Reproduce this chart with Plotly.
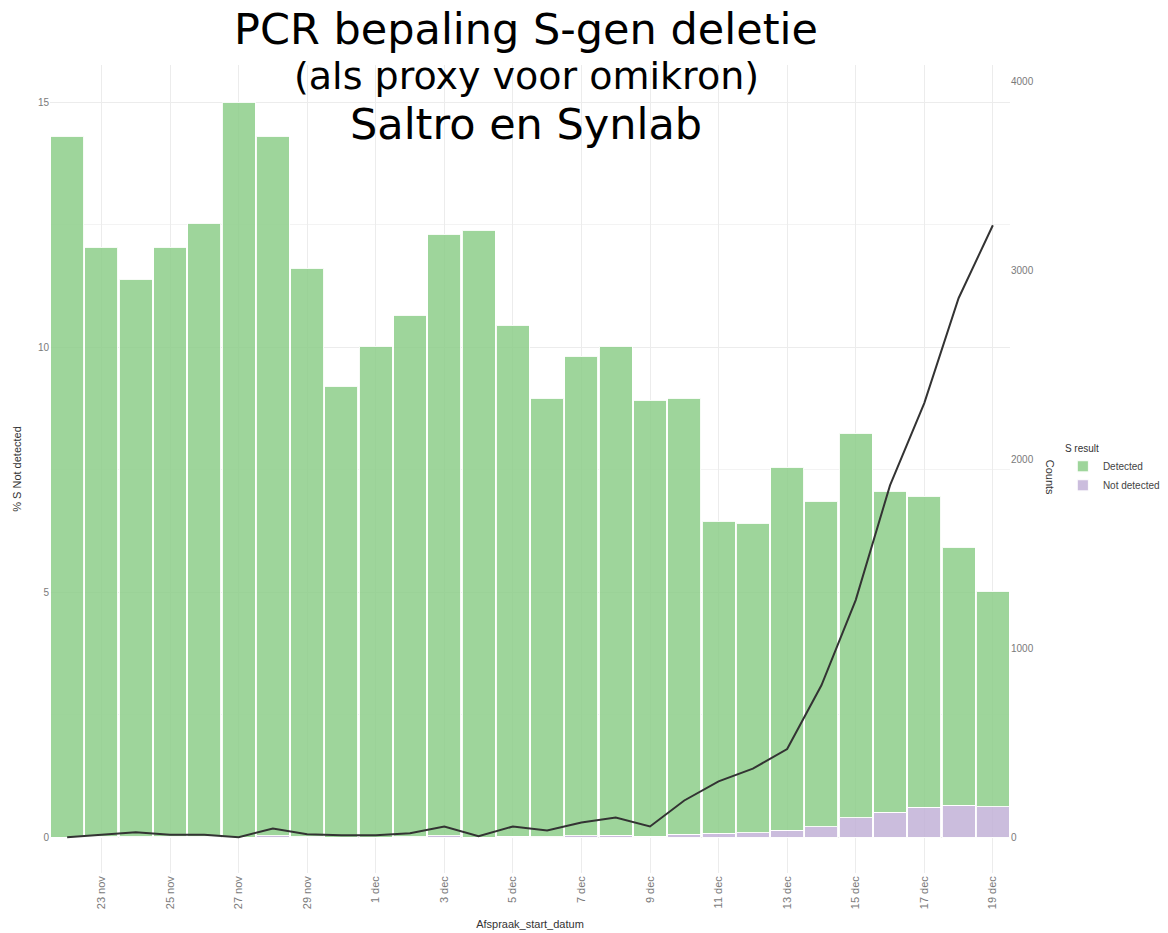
import plotly.graph_objects as go

# ---- data ----
dates = ["2021-11-22", "2021-11-23", "2021-11-24", "2021-11-25", "2021-11-26", "2021-11-27",
         "2021-11-28", "2021-11-29", "2021-11-30", "2021-12-01", "2021-12-02", "2021-12-03",
         "2021-12-04", "2021-12-05", "2021-12-06", "2021-12-07", "2021-12-08", "2021-12-09",
         "2021-12-10", "2021-12-11", "2021-12-12", "2021-12-13", "2021-12-14", "2021-12-15",
         "2021-12-16", "2021-12-17", "2021-12-18", "2021-12-19"]

total_counts = [3709, 3122, 2952, 3122, 3249, 3889, 3709, 3011, 2386, 2598, 2762, 3190,
                3212, 2709, 2323, 2545, 2598, 2312, 2323, 1672, 1661, 1958, 1778, 2138,
                1831, 1804, 1534, 1302]

not_detected = [0, 2, 3, 2, 2, 0, 7, 2, 1, 1, 2, 7,
                1, 6, 3, 8, 10, 5, 17, 20, 25, 37, 55, 103,
                132, 159, 168, 162]

detected = [t - n for t, n in zip(total_counts, not_detected)]

pct_not_detected = [0.0, 0.05, 0.1, 0.05, 0.05, 0.0, 0.18, 0.06, 0.04, 0.04, 0.08, 0.22,
                    0.02, 0.22, 0.14, 0.3, 0.4, 0.22, 0.75, 1.14, 1.4, 1.8, 3.1, 4.84,
                    7.18, 8.86, 11.0, 12.49]

tick_vals = ["2021-11-23", "2021-11-25", "2021-11-27", "2021-11-29", "2021-12-01", "2021-12-03",
             "2021-12-05", "2021-12-07", "2021-12-09", "2021-12-11", "2021-12-13", "2021-12-15",
             "2021-12-17", "2021-12-19"]
tick_text = ["23 nov", "25 nov", "27 nov", "29 nov", "1 dec", "3 dec", "5 dec", "7 dec",
             "9 dec", "11 dec", "13 dec", "15 dec", "17 dec", "19 dec"]

# ---- figure ----
GREEN = "rgba(141,206,137,0.85)"
PURPLE = "rgba(194,177,215,0.85)"

fig = go.Figure()
fig.add_trace(go.Bar(x=dates, y=not_detected, name="Not detected", yaxis="y",
                     marker=dict(color=PURPLE, line=dict(color="rgba(255,255,255,0.9)", width=1))))
fig.add_trace(go.Bar(x=dates, y=detected, name="Detected", yaxis="y",
                     marker=dict(color=GREEN, line=dict(color="rgba(255,255,255,0.9)", width=1))))
fig.add_trace(go.Scatter(x=dates, y=pct_not_detected, mode="lines", yaxis="y2",
                         line=dict(color="#333333", width=2), showlegend=False))

k = 259.3  # counts per percent unit (ratio of the two axes)
lo, hi = -0.73, 15.76

tickfont = dict(family="Liberation Sans, Arial, sans-serif", size=10, color="#7a7a7a")
xtickfont = dict(family="Liberation Sans, Arial, sans-serif", size=11, color="#7a7a7a")

fig.update_layout(
    width=1168, height=933,
    margin=dict(l=50, r=158, t=65, b=60),
    paper_bgcolor="white", plot_bgcolor="white",
    barmode="stack", bargap=0.04,
    showlegend=True,
    legend=dict(title=dict(text="S result", font=dict(size=10, color="#333")),
                traceorder="reversed", xref="container", yref="container",
                x=0.910, xanchor="left", y=0.497, yanchor="middle",
                font=dict(family="Liberation Sans, Arial, sans-serif", size=10, color="#444"),
                itemsizing="constant", bgcolor="rgba(0,0,0,0)", borderwidth=0),
    xaxis=dict(type="date", range=["2021-11-21 12:00", "2021-12-19 12:00"],
               tickvals=tick_vals, ticktext=tick_text, tickangle=-90, automargin=False,
               tickfont=xtickfont, showgrid=True, gridcolor="#ececec", gridwidth=1,
               zeroline=False, showline=False, ticks="",
               title=dict(text="Afspraak_start_datum",
                          font=dict(family="Liberation Sans, Arial, sans-serif", size=11, color="#333"),
                          standoff=12)),
    yaxis=dict(side="right", range=[lo * k, hi * k], tickvals=[0, 1000, 2000, 3000, 4000],
               tickfont=tickfont, showgrid=False, zeroline=False, ticks="", showline=False),
    yaxis2=dict(overlaying="y", side="left", range=[lo, hi], tickvals=[0, 5, 10, 15],
                tickfont=tickfont, showgrid=True, gridcolor="#ececec", gridwidth=1,
                minor=dict(tickvals=[2.5, 7.5, 12.5], showgrid=True, gridcolor="#f3f3f3", gridwidth=1),
                zeroline=False, ticks="", showline=False,
                title=dict(text="% S Not detected",
                           font=dict(family="Liberation Sans, Arial, sans-serif", size=11, color="#333"),
                           standoff=14)),
    annotations=[
        dict(text="PCR bepaling S-gen deletie", xref="paper", yref="paper", x=0.496, y=1.045,
             showarrow=False, font=dict(family="DejaVu Sans", size=43, color="black"),
             xanchor="center", yanchor="middle"),
        dict(text="(als proxy voor omikron)", xref="paper", yref="paper", x=0.496, y=0.986,
             showarrow=False, font=dict(family="DejaVu Sans", size=38, color="black"),
             xanchor="center", yanchor="middle"),
        dict(text="Saltro en Synlab", xref="paper", yref="paper", x=0.496, y=0.927,
             showarrow=False, font=dict(family="DejaVu Sans", size=43, color="black"),
             xanchor="center", yanchor="middle"),
        dict(text="Counts", xref="paper", yref="paper", x=1.042, y=0.49, textangle=90,
             showarrow=False, font=dict(family="Liberation Sans, Arial, sans-serif", size=11, color="#333"),
             xanchor="center", yanchor="middle"),
    ],
)

fig.write_html("out.html", config={"displayModeBar": False},
               post_script="document.body.style.margin='0';")
